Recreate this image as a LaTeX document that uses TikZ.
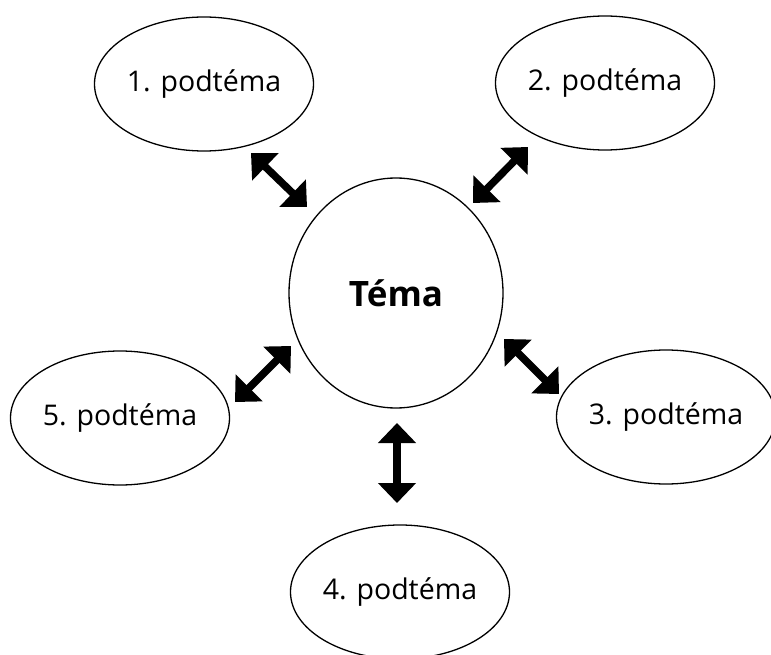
\documentclass[tikz,border=0pt]{standalone}
\usepackage{fontspec}
\setmainfont{Open Sans}
\usetikzlibrary{shapes.geometric,arrows.meta}
\begin{document}
\begin{tikzpicture}[x=1pt,y=-1pt,
  sub/.style={draw=black,line width=1.3pt,ellipse,inner sep=0pt,minimum width=219pt,minimum height=134pt,font=\fontsize{28.5}{30}\selectfont},
  main/.style={draw=black,line width=1.3pt,ellipse,inner sep=0pt,minimum width=214pt,minimum height=230pt,font=\fontsize{35}{37}\selectfont\bfseries},
  biarrow/.style={line width=7.5pt,{Triangle[length=20pt,width=37pt]}-{Triangle[length=20pt,width=37pt]},shorten <=0pt,shorten >=0pt}]
\useasboundingbox[fill=white] (0,0) rectangle (771,655);
\begin{scope}
\clip (0,0) rectangle (771,655);
\node[main] (tema) at (396,293) {Téma};
\node[sub] (p1) at (204,84) {1. podtéma};
\node[sub] (p2) at (605,83) {2. podtéma};
\node[sub] (p3) at (666,417) {3. podtéma};
\node[sub] (p4) at (400,592) {4. podtéma};
\node[sub] (p5) at (120,418) {5. podtéma};
\end{scope}
\coordinate (a1) at (251,153); \coordinate (b1) at (307,207);
\coordinate (a2) at (528,147); \coordinate (b2) at (473,203);
\coordinate (a3) at (504,339); \coordinate (b3) at (559,394);
\coordinate (a5) at (291,346); \coordinate (b5) at (235,402);
\coordinate (a4) at (397,423); \coordinate (b4) at (397,503);
\draw[biarrow] (a1) -- (b1);
\draw[biarrow] (a2) -- (b2);
\draw[biarrow] (a3) -- (b3);
\draw[biarrow] (a4) -- (b4);
\draw[biarrow] (a5) -- (b5);
\end{tikzpicture}
\end{document}
